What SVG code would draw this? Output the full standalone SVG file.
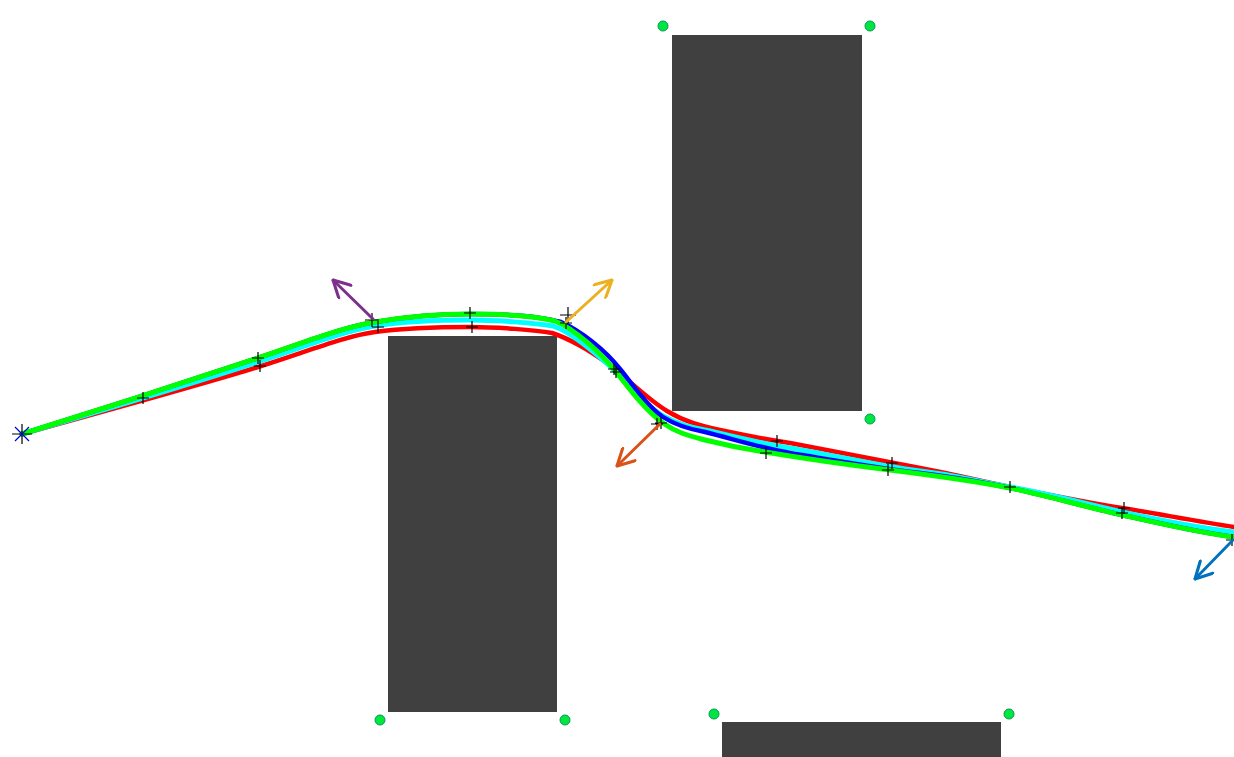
<svg xmlns="http://www.w3.org/2000/svg" width="1234" height="757" viewBox="0 0 1234 757">
<style>
.obs{fill:#404040}
.dot{fill:#00e640;stroke:#009a55;stroke-width:1}
.crv{fill:none;stroke-linecap:round;stroke-linejoin:round}
.tk{stroke:#000;stroke-width:1.2;fill:none}
.ar{fill:none;stroke-width:3;stroke-linecap:round}
</style>
<defs>
<marker id="mP" viewBox="0 0 10 10" refX="9.5" refY="5" markerWidth="6.5" markerHeight="6.5" orient="auto" markerUnits="strokeWidth"><path d="M1,0.5 L9.5,5 L1,9.5" fill="none" stroke="#7e2f8e" stroke-width="1.6" stroke-linecap="round" stroke-linejoin="round"/></marker>
<marker id="mY" viewBox="0 0 10 10" refX="9.5" refY="5" markerWidth="6.5" markerHeight="6.5" orient="auto" markerUnits="strokeWidth"><path d="M1,0.5 L9.5,5 L1,9.5" fill="none" stroke="#edb120" stroke-width="1.6" stroke-linecap="round" stroke-linejoin="round"/></marker>
<marker id="mO" viewBox="0 0 10 10" refX="9.5" refY="5" markerWidth="6.5" markerHeight="6.5" orient="auto" markerUnits="strokeWidth"><path d="M1,0.5 L9.5,5 L1,9.5" fill="none" stroke="#d95319" stroke-width="1.6" stroke-linecap="round" stroke-linejoin="round"/></marker>
<marker id="mB" viewBox="0 0 10 10" refX="9.5" refY="5" markerWidth="6.5" markerHeight="6.5" orient="auto" markerUnits="strokeWidth"><path d="M1,0.5 L9.5,5 L1,9.5" fill="none" stroke="#0072bd" stroke-width="1.6" stroke-linecap="round" stroke-linejoin="round"/></marker>
</defs>
<rect width="1234" height="757" fill="#fff"/>
<g id="obstacle1"><rect class="obs" x="388" y="336" width="169" height="376"/><circle class="dot" cx="380" cy="720" r="5"/><circle class="dot" cx="565" cy="720" r="5"/></g>
<g id="obstacle2"><rect class="obs" x="672" y="35" width="190" height="376"/><circle class="dot" cx="663" cy="26" r="5"/><circle class="dot" cx="870" cy="26" r="5"/><circle class="dot" cx="870" cy="419" r="5"/></g>
<g id="obstacle3"><rect class="obs" x="722" y="722" width="279" height="35"/><circle class="dot" cx="714" cy="714" r="5"/><circle class="dot" cx="1009" cy="714" r="5"/></g>
<g id="connectors">
<path class="crv" stroke="#ff0000" stroke-width="4.5" d="M22,434 C80,418 210,382 258,367 S345,336 375,332 S440,327 470,327 C497,327 535,330 552,333 C570,339 589,350 607,363 C627,378 647,399 667,411 C685,422 702,426 720,430 C743,435 767,439.5 790,443 C833,451 877,460 920,468 S965,478 1010,487 S1090,503 1122,508 S1200,522 1234,527"/>
<path class="crv" stroke="#00ffff" stroke-width="5" d="M22,434 C80,417 210,378 258,362 S343,331 375,326 S440,320 470,320 C497,320 535,323 553,326 C571,332 594,352 610,366 C628,383 647,408 665,417 C678,424 692,428 705,430 C733,436 762,444 790,448 C833,455 877,466 920,471 S965,479 1010,487 S1090,505 1122,512 S1200,528 1234,532"/>
<path class="crv" stroke="#0000ff" stroke-width="4.5" d="M22,434 C80,416 210,374 258,358 S340,328 375,322 S440,314 470,314 C500,314 540,316 561,322 C581,331 605,350 620,369 C633,385 648,407 663,417 C677,426 691,429.5 705,432 C733,439 762,448 790,453 C833,460 877,468 920,473 S980,482 1010,488 S1090,508 1122,515 S1200,533 1234,537"/>
<path class="crv" stroke="#00ff00" stroke-width="5" d="M22,434 C80,416 210,374 258,358 S340,328 375,322 S440,314 470,314 C500,314 535,316 555,321 C575,329 602,354 617,373 C631,391 647,412 663,423 C677,433 690,436 705,440 C725,445 745,449 765,452 C807,459 850,465 890,470 S980,482 1010,488 S1090,508 1122,515 S1200,533 1234,537"/>
</g>
<g id="ticks">
<path class="tk" d="M143,392v12M137,398h12 M258,352v12M252,358h12 M260,360v12M254,366h12 M372,313v14M365,320h14 M378,321v12M372,327h12 M470,307v12M464,313h12 M472,321v12M466,327h12 M568,307v16M560,315h16 M566,317v12M560,323h12 M616,366v12M610,372h12 M614,363v12M608,369h12 M657,418v12M651,424h12 M661,417v12M655,423h12 M766,447v12M760,453h12 M777,435v12M771,441h12 M888,464v12M882,470h12 M892,457v12M886,463h12 M1010,481v12M1004,487h12 M1122,507v12M1116,513h12 M1124,502v12M1118,508h12 M1232,534v12M1226,540h12"/>
</g>
<g id="start"><path d="M22,424v20M12,434h20" stroke="#000" stroke-width="1.2"/><path d="M15,427l14,14M29,427l-14,14" stroke="#0000cc" stroke-width="1.2"/></g>
<g id="arrows">
<line class="ar" stroke="#7e2f8e" x1="373" y1="319" x2="333" y2="280" marker-end="url(#mP)"/>
<line class="ar" stroke="#edb120" x1="566" y1="322" x2="612" y2="280" marker-end="url(#mY)"/>
<line class="ar" stroke="#d95319" x1="660" y1="424" x2="617" y2="466" marker-end="url(#mO)"/>
<line class="ar" stroke="#0072bd" x1="1233" y1="540" x2="1195" y2="579" marker-end="url(#mB)"/>
</g>
</svg>
